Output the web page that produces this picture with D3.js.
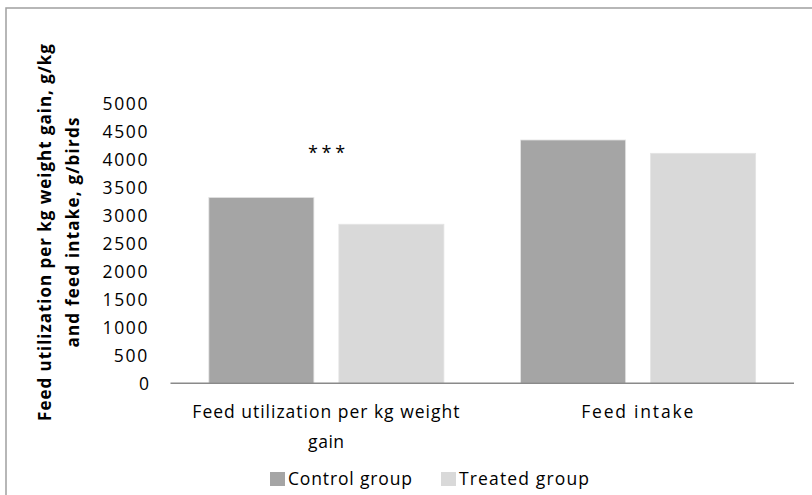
<!DOCTYPE html>
<html><head><meta charset="utf-8">
<script src="https://cdn.jsdelivr.net/npm/d3@7"></script>
<style>body{margin:0;background:#fff}svg{display:block}text{font-family:"Open Sans",Lato,sans-serif;fill:#000}</style>
</head><body><svg id="c" width="812" height="495"></svg>
<script>
const categories = ["Feed utilization per kg weight gain", "Feed intake"];
const categoryLines = [["Feed utilization per kg weight", "gain"], ["Feed intake"]];
const seriesNames = ["Control group", "Treated group"];
const controlValues = [3320, 4345];
const treatedValues = [2840, 4107];
const yTicks = [0, 500, 1000, 1500, 2000, 2500, 3000, 3500, 4000, 4500, 5000];
const yTitle = ["Feed utilization per kg weight gain, g/kg", "and feed intake, g/birds"];
const annotation = "***";
const colors = ["#a5a5a5", "#d9d9d9"];

const svg = d3.select("#c");
svg.append("rect").attr("x", 6).attr("y", 8).attr("width", 830).attr("height", 520)
  .attr("fill", "none").attr("stroke", "#a0a0a0").attr("stroke-width", 1.5);

const x0 = d3.scaleBand().domain(categories).range([170.5, 794]).paddingInner(0).paddingOuter(0);
const x1 = d3.scaleBand().domain(seriesNames).range([0, x0.bandwidth()]).paddingInner(0.192).paddingOuter(0.295);
const y = d3.scaleLinear().domain([0, 5000]).range([383.3, 103.3]);

function fit(sel, w) {
  sel.each(function() {
    const t = d3.select(this);
    const L = this.getComputedTextLength();
    const n = this.textContent.length;
    if (n > 1) t.attr("letter-spacing", ((w - L) / (n - 1)).toFixed(2));
  });
}

const FS = 17.5;
const yAxis = svg.append("g").attr("transform", "translate(149,0)")
  .call(d3.axisLeft(y).tickValues(yTicks).tickSize(0).tickPadding(0).tickFormat(d3.format("d")));
yAxis.attr("font-family", null).attr("font-size", null);
yAxis.select(".domain").remove();
yAxis.selectAll("text").attr("font-size", FS).attr("fill", "#000").attr("dy", "0.35em")
  .each(function(d) { const n = this.textContent.length; fit(d3.select(this), n * 11.2); });

const data = categories.map((c, i) => ({cat: c, vals: [{s: seriesNames[0], v: controlValues[i]}, {s: seriesNames[1], v: treatedValues[i]}]}));
const g = svg.selectAll("g.grp").data(data).join("g").attr("class", "grp")
  .attr("transform", d => `translate(${x0(d.cat)},0)`);
g.selectAll("rect").data(d => d.vals).join("rect")
  .attr("x", d => x1(d.s)).attr("width", x1.bandwidth())
  .attr("y", d => y(d.v)).attr("height", d => y(0) - y(d.v))
  .attr("fill", (d, i) => colors[i]).attr("stroke", "#e4e4e4").attr("stroke-width", 0.8);

svg.append("line").attr("x1", x0.range()[0]).attr("x2", x0.range()[1]).attr("y1", y(0)).attr("y2", y(0))
  .attr("stroke", "#8a8a8a").attr("stroke-width", 1.6);

const catTargets = [[267, 36], [112]];
data.forEach((d, i) => {
  const cx = x0(d.cat) + x0.bandwidth() / 2;
  categoryLines[i].forEach((ln, j) => {
    const t = svg.append("text").attr("x", cx).attr("y", 412 + j * 30).attr("dy", "0.35em")
      .attr("text-anchor", "middle").attr("font-size", FS).text(ln);
    fit(t, catTargets[i][j]);
  });
});

const ann = svg.append("text").attr("x", x0(categories[0]) + x0.bandwidth() / 2 + 2).attr("y", 153).attr("dy", "0.35em")
  .attr("text-anchor", "middle").attr("font-size", 18).text(annotation);
fit(ann, 37);

const yt = svg.append("g").attr("transform", "translate(0,232) rotate(-90)");
const ytTargets = [377, 230];
yTitle.forEach((ln, j) => {
  const t = yt.append("text").attr("x", 0).attr("y", [45, 73][j]).attr("dy", "0.35em")
    .attr("text-anchor", "middle").attr("font-size", 17).attr("font-weight", "bold").text(ln);
  fit(t, ytTargets[j]);
});

const legX = [270, 441], legTW = [124, 130];
seriesNames.forEach((s, i) => {
  svg.append("rect").attr("x", legX[i]).attr("y", 472).attr("width", 15).attr("height", 14).attr("fill", colors[i]);
  const t = svg.append("text").attr("x", legX[i] + 18).attr("y", 479).attr("dy", "0.35em").attr("font-size", FS).text(s);
  fit(t, legTW[i]);
});
</script></body></html>
